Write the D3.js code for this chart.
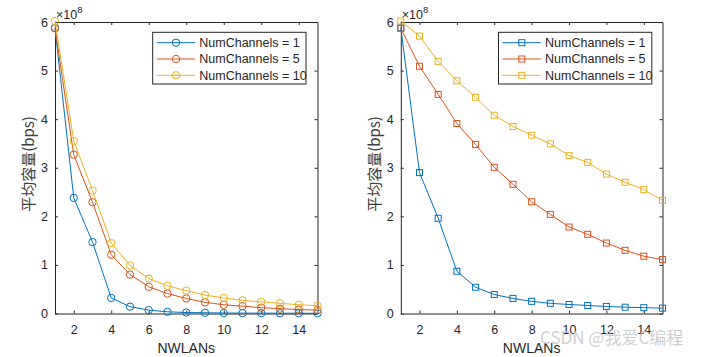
<!DOCTYPE html>
<html><head><meta charset="utf-8">
<script src="https://cdn.jsdelivr.net/npm/d3@7"></script>
<style>body{margin:0;background:#fff}svg{display:block}</style>
</head><body><svg id="c" width="713" height="357"></svg>
<script>
const nwlans = [1,2,3,4,5,6,7,8,9,10,11,12,13,14,15];
const seriesNames = ["NumChannels = 1","NumChannels = 5","NumChannels = 10"];
// left panel (units of 1e8 bps)
const leftCh1  = [5.88,2.38,1.47,0.32,0.14,0.07,0.035,0.02,0.015,0.01,0.008,0.007,0.006,0.005,0.005];
const leftCh5  = [5.87,3.27,2.29,1.21,0.80,0.55,0.41,0.31,0.23,0.18,0.15,0.12,0.10,0.08,0.07];
const leftCh10 = [6.02,3.55,2.53,1.45,0.99,0.72,0.57,0.47,0.38,0.32,0.27,0.24,0.21,0.18,0.16];
// right panel
const rightCh1  = [5.88,2.90,1.96,0.87,0.54,0.39,0.31,0.25,0.21,0.185,0.165,0.145,0.13,0.12,0.11];
const rightCh5  = [5.87,5.09,4.51,3.91,3.48,3.01,2.66,2.30,2.04,1.78,1.63,1.45,1.30,1.18,1.11];
const rightCh10 = [6.02,5.71,5.19,4.79,4.45,4.08,3.85,3.67,3.49,3.25,3.11,2.87,2.70,2.55,2.33];
const xTicks = [2,4,6,8,10,12,14];
const yTicks = [0,1,2,3,4,5,6];
const colors = ["#0072BD","#D95319","#EDB120"];

const svg = d3.select("#c");
const font = "'Liberation Sans', Arial, sans-serif";
const axColor = "#262626";

function panel(x0, x1, data, marker){
  const top = 22, bottom = 313.5;
  const x = d3.scaleLinear().domain([1,15]).range([x0,x1]);
  const y = d3.scaleLinear().domain([0,6]).range([bottom,top]);
  const g = svg.append("g");
  const ax = g.append("g").attr("transform",`translate(0,${bottom})`)
    .call(d3.axisBottom(x).tickValues(xTicks).tickFormat(d3.format("d")).tickSize(-3).tickPadding(12).tickSizeOuter(0));
  const ax2 = g.append("g").attr("transform",`translate(0,${top})`)
    .call(d3.axisTop(x).tickValues(xTicks).tickSize(-3).tickFormat("").tickSizeOuter(0));
  const ay = g.append("g").attr("transform",`translate(${x0},0)`)
    .call(d3.axisLeft(y).tickValues(yTicks).tickFormat(d3.format("d")).tickSize(-3).tickPadding(7).tickSizeOuter(0));
  const ay2 = g.append("g").attr("transform",`translate(${x1},0)`)
    .call(d3.axisRight(y).tickValues(yTicks).tickSize(-3).tickFormat("").tickSizeOuter(0));
  [ax,ax2,ay,ay2].forEach(a=>{
    a.select(".domain").attr("stroke",axColor).attr("stroke-width",1);
    a.selectAll(".tick line").attr("stroke",axColor);
    a.selectAll("text").attr("fill",axColor).style("font-family",font).style("font-size","12.5px");
  });
  data.forEach((vals,i)=>{
    const pts = nwlans.map((n,k)=>[n,vals[k]]);
    g.append("path").datum(pts)
      .attr("fill","none").attr("stroke",colors[i]).attr("stroke-width",1)
      .attr("d", d3.line().x(d=>x(d[0])).y(d=>y(d[1])));
    const m = g.append("g");
    pts.forEach(p=>{
      if(marker==="circle"){
        m.append("circle").attr("cx",x(p[0])).attr("cy",y(p[1])).attr("r",3.7)
          .attr("fill","none").attr("stroke",colors[i]).attr("stroke-width",1);
      } else {
        m.append("rect").attr("x",x(p[0])-3).attr("y",y(p[1])-3).attr("width",6).attr("height",6)
          .attr("fill","none").attr("stroke",colors[i]).attr("stroke-width",1);
      }
    });
  });
  const ex = g.append("text").attr("x",x0+1).attr("y",18.5).attr("fill",axColor)
    .style("font-family",font).style("font-size","12.5px");
  ex.append("tspan").text("×10");
  ex.append("tspan").attr("dy",-6).style("font-size","9.5px").text("8");
  g.append("text").attr("x",(x0+x1)/2).attr("y",353).attr("text-anchor","middle")
    .attr("fill",axColor).style("font-family",font).style("font-size","14px").text("NWLANs");
  g.append("text").attr("transform",`translate(${x0-21},164) rotate(-90)`)
    .attr("text-anchor","middle").attr("fill","#404040")
    .style("font-family","'Noto Sans CJK SC', sans-serif").style("font-size","15px").text("平均容量(bps)");
  const lx = x0 + 97.7, ly = 32.3, lw = 153.3, lh = 51.7;
  g.append("rect").attr("x",lx).attr("y",ly).attr("width",lw).attr("height",lh)
    .attr("fill","#fff").attr("stroke",axColor).attr("stroke-width",1);
  seriesNames.forEach((name,i)=>{
    const yy = ly + 10.4 + i*16.3;
    g.append("line").attr("x1",lx+4).attr("x2",lx+42.3).attr("y1",yy).attr("y2",yy)
      .attr("stroke",colors[i]).attr("stroke-width",1);
    const cx = lx+23.3;
    if(marker==="circle"){
      g.append("circle").attr("cx",cx).attr("cy",yy).attr("r",3.7).attr("fill","none").attr("stroke",colors[i]);
    } else {
      g.append("rect").attr("x",cx-3).attr("y",yy-3).attr("width",6).attr("height",6).attr("fill","none").attr("stroke",colors[i]);
    }
    g.append("text").attr("x",lx+46.6).attr("y",yy+4.3).attr("fill",axColor)
      .style("font-family",font).style("font-size","12.5px").text(name);
  });
}

panel(55, 317.5, [leftCh1,leftCh5,leftCh10], "circle");
panel(400.8, 662.5, [rightCh1,rightCh5,rightCh10], "square");

// watermark
svg.append("text").attr("x",540).attr("y",344).attr("fill","#c4c4c4").attr("opacity",0.8)
  .style("font-family","'Noto Sans CJK SC', sans-serif").style("font-size","17px").text("CSDN @我爱C编程");
</script></body></html>
